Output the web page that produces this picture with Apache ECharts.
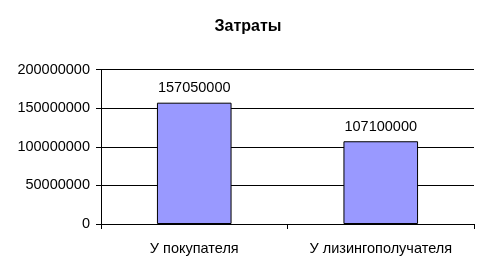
<!DOCTYPE html>
<html>
<head>
<meta charset="utf-8">
<script src="https://cdn.jsdelivr.net/npm/echarts@6/dist/echarts.min.js"></script>
<style>
html,body{margin:0;padding:0;background:#fff;}
#chart{width:489px;height:276px;}
</style>
</head>
<body>
<div id="chart"></div>
<script>
const title = "Затраты";
const categories = ["У покупателя", "У лизингополучателя"];
const values = [157050000, 107100000];
const yTicks = [0, 50000000, 100000000, 150000000, 200000000];

const chart = echarts.init(document.getElementById('chart'), null, {renderer: 'canvas'});
const font = '"Liberation Sans", Arial, sans-serif';
chart.setOption({
  animation: false,
  backgroundColor: '#ffffff',
  title: {
    text: title,
    left: 243,
    top: 14,
    textAlign: 'center',
    textStyle: {fontFamily: font, fontSize: 16, fontWeight: 'bold', color: '#000'}
  },
  grid: {left: 101, right: 15, top: 69.5, bottom: 52, containLabel: false},
  xAxis: {
    type: 'category',
    data: categories,
    axisLine: {lineStyle: {color: '#000', width: 1}},
    axisTick: {show: true, length: 5, alignWithLabel: false, lineStyle: {color: '#000'}},
    axisLabel: {fontFamily: font, fontSize: 14.5, color: '#000', margin: 17, interval: 0},
    splitLine: {show: false}
  },
  yAxis: {
    type: 'value',
    min: yTicks[0],
    max: yTicks[yTicks.length - 1],
    interval: yTicks[1] - yTicks[0],
    axisLine: {show: true, lineStyle: {color: '#000', width: 1}},
    axisTick: {show: true, length: 5, lineStyle: {color: '#000'}},
    axisLabel: {fontFamily: font, fontSize: 14.5, color: '#000', margin: 11, formatter: v => String(v)},
    splitLine: {show: true, lineStyle: {color: '#000', width: 1}}
  },
  series: [{
    type: 'bar',
    data: values,
    barWidth: '40%',
    itemStyle: {color: '#9999ff', borderColor: '#000', borderWidth: 1},
    label: {show: true, position: 'top', distance: 7, fontFamily: font, fontSize: 14.5, color: '#000', formatter: p => String(p.value)}
  }]
});
</script>
</body>
</html>
